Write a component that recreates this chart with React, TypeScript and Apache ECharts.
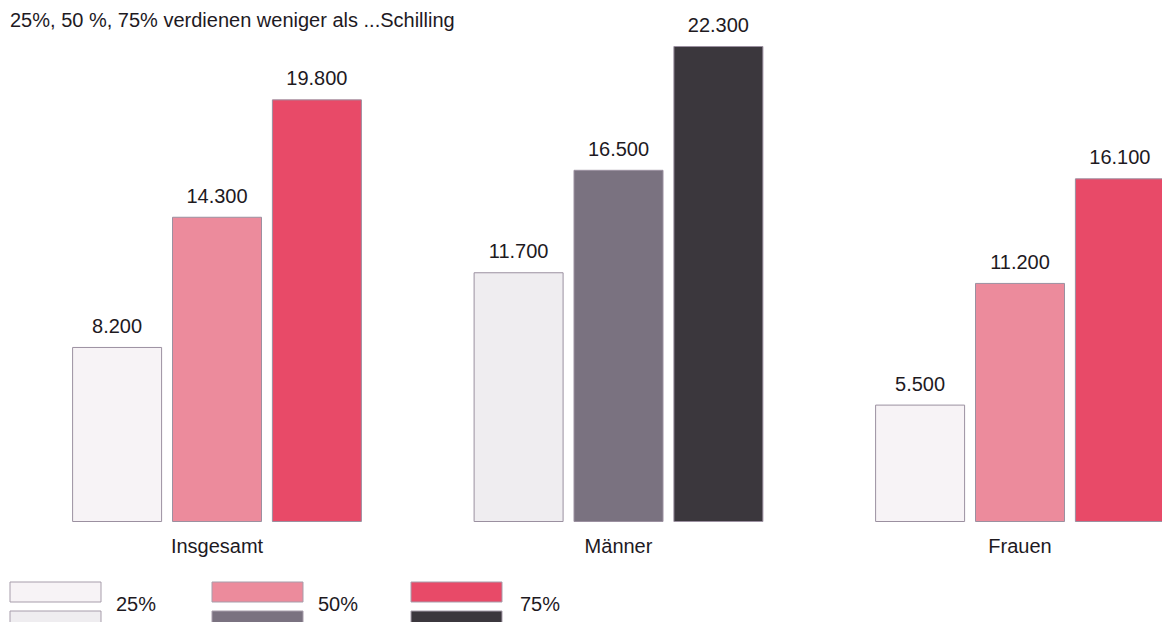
import React, { useEffect, useRef } from "react";
import * as echarts from "echarts";

const title = "25%, 50 %, 75% verdienen weniger als ...Schilling";
const categories = ["Insgesamt", "Männer", "Frauen"];
const seriesNames = ["25%", "50%", "75%"];
const p25 = [8200, 11700, 5500];
const p50 = [14300, 16500, 11200];
const p75 = [19800, 22300, 16100];
const pinkPalette = ["#f7f3f6", "#ec8b9c", "#e84a68"];
const greyPalette = ["#efedf0", "#7a7280", "#3b373d"];
const greyCategory = "Männer";

const FONT = "'Liberation Sans', Arial, Helvetica, sans-serif";
const TEXT = "#1e1a1f";

function fmt(v: number): string {
  return String(Math.round(v)).replace(/\B(?=(\d{3})+(?!\d))/g, ".");
}

export default function App() {
  const ref = useRef<HTMLDivElement>(null);
  useEffect(() => {
    if (!ref.current) return;
    const chart = echarts.init(ref.current, undefined, { renderer: "svg" });
    const all = [p25, p50, p75];
    const series = all.map((vals, si) => ({
      name: seriesNames[si],
      type: "bar",
      barWidth: 90,
      barGap: "11%",
      data: vals.map((v, ci) => ({
        value: v,
        itemStyle: {
          color: categories[ci] === greyCategory ? greyPalette[si] : pinkPalette[si],
          borderColor: "#9b90a0",
          borderWidth: 1,
        },
      })),
      label: {
        show: true,
        position: "top",
        distance: 11,
        color: TEXT,
        fontFamily: FONT,
        fontSize: 20,
        formatter: (p: any) => fmt(p.value),
      },
    }));

    const legendX = [10, 212, 411];
    const legendTextX = [116, 318, 520];
    const graphic: any[] = [
      {
        type: "text",
        x: 10,
        y: 20,
        style: { text: title, fill: TEXT, font: `20px ${FONT}`, textVerticalAlign: "middle" },
      },
    ];
    seriesNames.forEach((n, i) => {
      graphic.push({
        type: "rect",
        shape: { x: legendX[i], y: 582, width: 91, height: 20 },
        style: { fill: pinkPalette[i], stroke: "#a79dab", lineWidth: 1 },
      });
      graphic.push({
        type: "rect",
        shape: { x: legendX[i], y: 611, width: 91, height: 20 },
        style: { fill: greyPalette[i], stroke: "#a79dab", lineWidth: 1 },
      });
      graphic.push({
        type: "text",
        x: legendTextX[i],
        y: 604,
        style: { text: n, fill: TEXT, font: `20px ${FONT}`, textVerticalAlign: "middle" },
      });
    });

    chart.setOption({
      animation: false,
      backgroundColor: "#ffffff",
      grid: { left: 16.25, width: 1204.5, top: 46, bottom: 100 },
      xAxis: {
        type: "category",
        data: categories,
        axisLine: { show: false },
        axisTick: { show: false },
        axisLabel: { color: TEXT, fontFamily: FONT, fontSize: 20, margin: 14 },
      },
      yAxis: {
        type: "value",
        min: 0,
        max: 22300,
        show: false,
        splitLine: { show: false },
      },
      series,
      graphic,
    });
    return () => chart.dispose();
  }, []);
  return (
    <div
      style={{
        position: "fixed",
        left: 0,
        top: 0,
        width: 1162,
        height: 622,
        overflow: "hidden",
        background: "#fff",
      }}
    >
      <div ref={ref} style={{ width: 1222, height: 622 }} />
    </div>
  );
}
